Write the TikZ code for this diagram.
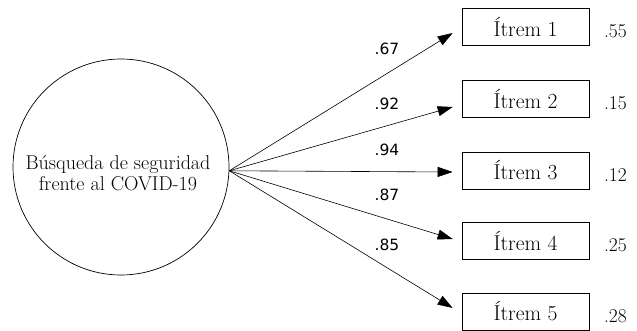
\documentclass[tikz,border=0pt]{standalone}
\usepackage{fontspec}
\newfontfamily\lblfont{DejaVu Sans}
\usetikzlibrary{arrows.meta,calc}
\begin{document}
\begin{tikzpicture}[x=1pt,y=-1pt,
  every node/.style={inner sep=0pt},
  itembox/.style={draw, line width=0.7pt, minimum width=127pt, minimum height=37pt, font=\fontsize{21.5}{24}\selectfont},
  loadlbl/.style={font=\lblfont\fontsize{15.5}{18}\selectfont},
  errlbl/.style={font=\fontsize{19.5}{22}\selectfont, anchor=base},
  path/.style={line width=0.6pt, -{Triangle[length=15pt,width=10pt]}}
]
\useasboundingbox (0,0) rectangle (637,330);
\node[draw, circle, line width=0.7pt, minimum size=216pt] (c) at (121,167) {};
\node[align=center, font=\fontsize{20}{21}\selectfont] (ct) at (118,173) {Búsqueda de seguridad\\frente al COVID-19};
\coordinate (s) at (c.-2.6);
\foreach \i/\y/\dy/\e/\l/\ly in {1/26.5/6.5/.55/.67/48.5, 2/98.5/8.5/.15/.92/104, 3/170.5/1.5/.12/.94/150, 4/240.5/-1.5/.25/.87/195, 5/311.5/-3.5/.28/.85/245}{
  \node[itembox] (b\i) at (525.5,\y) {Ítrem \i};
  \coordinate (t\i) at ($(b\i.west)+(-9,\dy)$);
  \draw[path] (s) -- (t\i);
  \node[loadlbl] (l\i) at (387,\ly) {\l};
  \node[errlbl] (e\i) at ($(b\i.base)+(90,1.5)$) {\e};
}
\end{tikzpicture}
\end{document}
